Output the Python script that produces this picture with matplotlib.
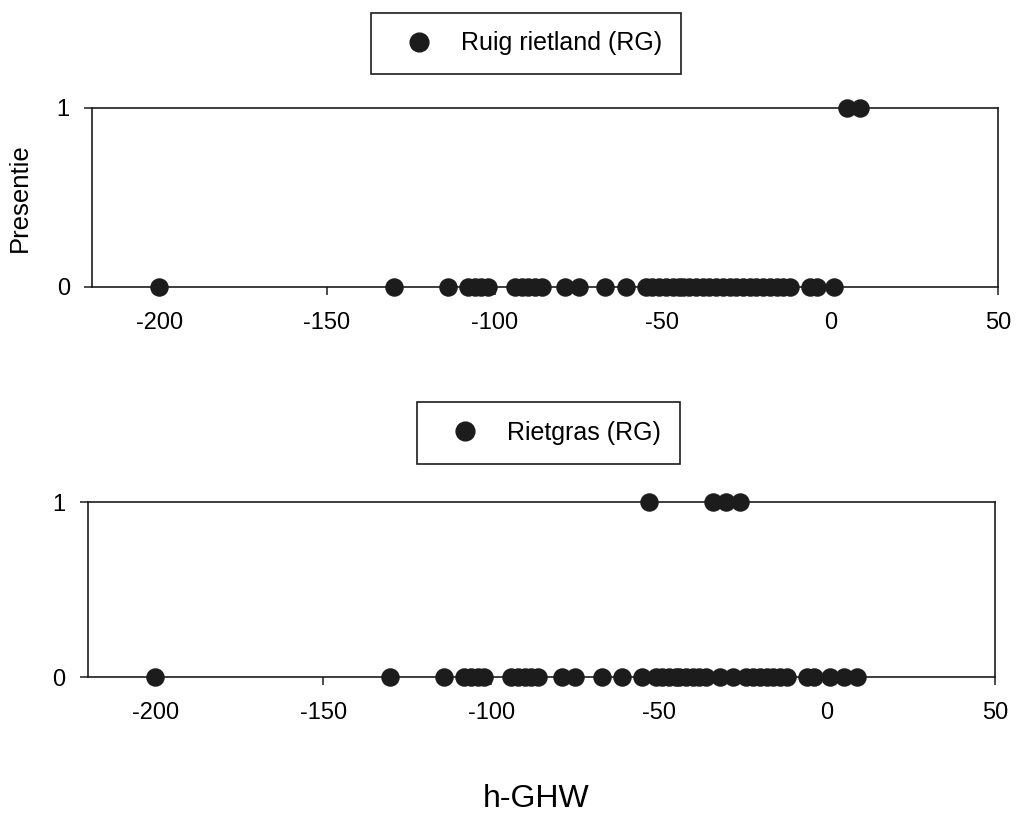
import matplotlib
matplotlib.use("Agg")
import matplotlib.pyplot as plt

plt.rcParams['font.family'] = ['Liberation Sans', 'DejaVu Sans']
plt.rcParams['axes.unicode_minus'] = False

# h-GHW values of the plots (shared by both panels)
h_ghw = [-200, -130, -114, -108, -106, -104, -102,
         -94, -92, -90, -88, -86, -79, -75, -67, -61,
         -55, -53, -51, -49, -47, -45, -44, -42, -40, -38, -36, -34,
         -32, -30, -28, -26, -24, -22, -20, -18, -16, -14, -12,
         -6, -4, 1, 5, 9]

# presence (0/1) of each vegetation type at those plots
ruig_rietland = [0, 0, 0, 0, 0, 0, 0,
                 0, 0, 0, 0, 0, 0, 0, 0, 0,
                 0, 0, 0, 0, 0, 0, 0, 0, 0, 0, 0, 0,
                 0, 0, 0, 0, 0, 0, 0, 0, 0, 0, 0,
                 0, 0, 0, 1, 1]
rietgras = [0, 0, 0, 0, 0, 0, 0,
            0, 0, 0, 0, 0, 0, 0, 0, 0,
            0, 1, 0, 0, 0, 0, 0, 0, 0, 0, 0, 1,
            0, 1, 0, 1, 0, 0, 0, 0, 0, 0, 0,
            0, 0, 0, 0, 0]

panels = [
    ("Ruig rietland (RG)", ruig_rietland, [0.0904, 0.6483, 0.890, 0.2194], (0.517, 0.9467)),
    ("Rietgras (RG)", rietgras, [0.0864, 0.1703, 0.891, 0.2145], (0.539, 0.4694)),
]

fig = plt.figure(figsize=(10.18, 8.16), dpi=100)
ink = '#1c1c1c'

for i, (name, pres, rect, legpos) in enumerate(panels):
    ax = fig.add_axes(rect)
    ax.plot(h_ghw, pres, 'o', color=ink, ms=12.3, clip_on=False, zorder=5,
            label=name)
    ax.set_xlim(-220, 50)
    ax.set_ylim(0, 1)
    ax.set_xticks([-200, -150, -100, -50, 0, 50])
    ax.set_yticks([0, 1])
    ax.tick_params(labelsize=17, length=6, width=1.1, color=ink)
    ax.tick_params(axis='x', pad=12)
    ax.tick_params(axis='y', pad=10)
    for s in ax.spines.values():
        s.set_color(ink)
        s.set_linewidth(1.2)
    if i == 0:
        ax.set_ylabel('Presentie', fontsize=18.5)
        ax.yaxis.set_label_coords(-0.066, 0.5)
    leg = ax.legend(loc='center', bbox_to_anchor=legpos,
                    bbox_transform=fig.transFigure, fontsize=18,
                    fancybox=False, edgecolor=ink, framealpha=1,
                    borderpad=0.75, handletextpad=0.55, borderaxespad=0,
                    handlelength=2.3, markerscale=1.1)
    leg.get_frame().set_linewidth(1.2)

fig.text(0.527, 0.021, 'h-GHW', fontsize=23, ha='center', va='center')

fig.savefig('out.png', dpi=100)
